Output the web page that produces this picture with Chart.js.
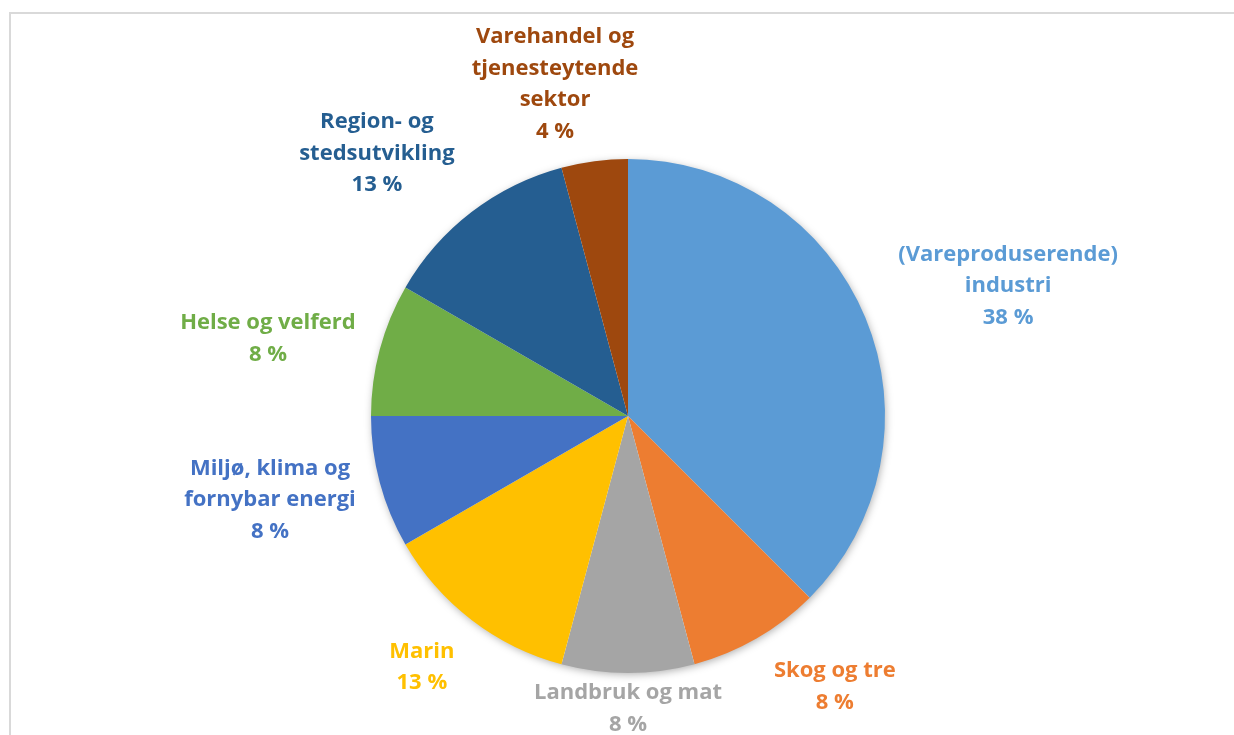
<!DOCTYPE html>
<html>
<head>
<meta charset="utf-8">
<script src="https://cdn.jsdelivr.net/npm/chart.js@4"></script>
<style>
  html, body { margin: 0; padding: 0; background: #ffffff; overflow: hidden; }
  #wrap { position: relative; width: 1234px; height: 735px; }
  #frame { position: absolute; left: 9px; top: 12px; width: 1400px; height: 900px;
           border-top: 2px solid #d9d9d9; border-left: 2px solid #d9d9d9; box-sizing: border-box; }
  canvas { position: absolute; left: 0; top: 0; }
</style>
</head>
<body>
<div id="wrap">
  <div id="frame"></div>
  <canvas id="c" width="1234" height="735"></canvas>
</div>
<script>
// ---- data ----
const categories = [
  ["(Vareproduserende)", "industri"],
  ["Skog og tre"],
  ["Landbruk og mat"],
  ["Marin"],
  ["Miljø, klima og", "fornybar energi"],
  ["Helse og velferd"],
  ["Region- og", "stedsutvikling"],
  ["Varehandel og", "tjenesteytende", "sektor"]
];
const counts = [9, 2, 2, 3, 2, 2, 3, 1];
const colors = ["#5B9BD5", "#ED7D31", "#A5A5A5", "#FFC000", "#4472C4", "#70AD47", "#255E91", "#9E480E"];

// ---- label layout (relative to pie centre, in units of the pie radius) ----
const labelOffsets = [
  [1.479, -0.506],
  [0.805, 1.054],
  [0.000, 1.140],
  [-0.802, 0.977],
  [-1.393, 0.327],
  [-1.401, -0.300],
  [-0.977, -1.021],
  [-0.284, -1.290]
];

const FONT = 'bold 22px "Open Sans", Lato, sans-serif';
const LINE_H = 31.5;

const shadowPlugin = {
  id: 'pieShadow',
  beforeDatasetsDraw(chart) {
    const arc = chart.getDatasetMeta(0).data[0];
    if (!arc) return;
    const ctx = chart.ctx;
    ctx.save();
    ctx.shadowColor = 'rgba(0,0,0,0.35)';
    ctx.shadowBlur = 9;
    ctx.shadowOffsetX = 1;
    ctx.shadowOffsetY = 2;
    ctx.fillStyle = '#ffffff';
    ctx.beginPath();
    ctx.arc(arc.x, arc.y, arc.outerRadius - 1, 0, Math.PI * 2);
    ctx.fill();
    ctx.restore();
  }
};

const labelPlugin = {
  id: 'outsideLabels',
  afterDatasetsDraw(chart) {
    const meta = chart.getDatasetMeta(0);
    const data = chart.data.datasets[0].data;
    const total = data.reduce((a, b) => a + b, 0);
    const ctx = chart.ctx;
    ctx.save();
    ctx.font = FONT;
    ctx.textAlign = 'center';
    ctx.textBaseline = 'middle';
    meta.data.forEach((arc, i) => {
      const R = arc.outerRadius;
      const cx = arc.x + labelOffsets[i][0] * R;
      const cy = arc.y + labelOffsets[i][1] * R;
      const pct = Math.round(data[i] / total * 100) + ' %';
      const lines = categories[i].concat([pct]);
      const top = cy - (lines.length - 1) * LINE_H / 2;
      ctx.fillStyle = colors[i];
      lines.forEach((t, k) => ctx.fillText(t, cx, top + k * LINE_H));
    });
    ctx.restore();
  }
};

new Chart(document.getElementById('c'), {
  type: 'pie',
  data: {
    labels: categories.map(l => l.join(' ')),
    datasets: [{
      data: counts,
      backgroundColor: colors,
      borderWidth: 0,
      hoverOffset: 0
    }]
  },
  options: {
    responsive: false,
    animation: false,
    layout: { padding: { left: 371, right: 349, top: 159, bottom: 62 } },
    plugins: { legend: { display: false }, tooltip: { enabled: false } }
  },
  plugins: [shadowPlugin, labelPlugin]
});
</script>
</body>
</html>
